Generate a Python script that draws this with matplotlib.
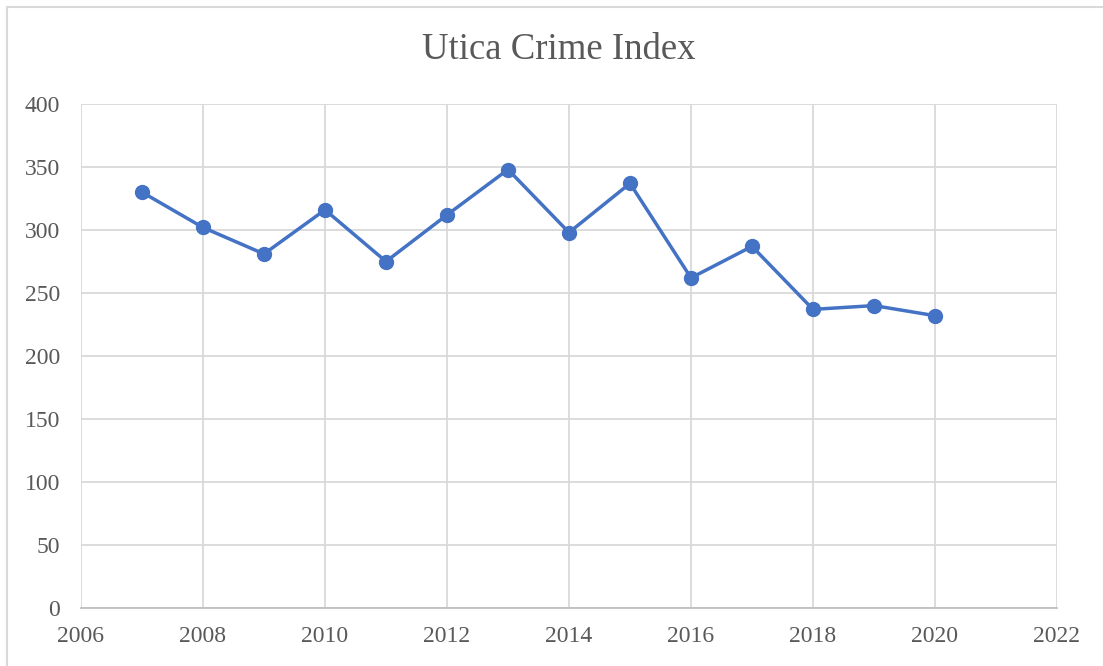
import matplotlib.pyplot as plt
from matplotlib.patches import Rectangle

# data
years = [2007, 2008, 2009, 2010, 2011, 2012, 2013, 2014, 2015, 2016, 2017, 2018, 2019, 2020]
crime_index = [330, 302, 281, 316, 275, 312, 348, 298, 337, 262, 287, 237, 240, 232]

x_ticks = [2006, 2008, 2010, 2012, 2014, 2016, 2018, 2020, 2022]
y_ticks = [0, 50, 100, 150, 200, 250, 300, 350, 400]

plt.rcParams['font.family'] = ['Liberation Serif', 'DejaVu Serif']

fig = plt.figure(figsize=(11.03, 6.66), dpi=100)
ax = fig.add_axes([81 / 1103, 1 - 608 / 666, 976 / 1103, 504 / 666])

# chart border (Excel-like)
fig.patches.append(Rectangle((7 / 1103, -0.1), 1.2, 1 - 7 / 666 + 0.1,
                             transform=fig.transFigure, fill=False,
                             edgecolor='#d9d9d9', linewidth=1.5))

ax.plot(years, crime_index, color='#4472C4', linewidth=2.5,
        marker='o', markersize=10, zorder=3)

ax.set_xlim(2006, 2022)
ax.set_ylim(0, 400)
ax.set_xticks(x_ticks)
ax.set_yticks(y_ticks)
ax.grid(True, color='#d9d9d9', linewidth=1.3)
ax.set_axisbelow(True)

for side in ['top', 'right', 'left']:
    ax.spines[side].set_visible(False)
ax.spines['bottom'].set_color('#bfbfbf')
ax.spines['bottom'].set_linewidth(1.3)

ax.tick_params(axis='both', length=0, labelsize=17, labelcolor='#595959')
ax.tick_params(axis='y', pad=15)
ax.tick_params(axis='x', pad=13)

fig.text(0.507, 1 - 50 / 666, "Utica Crime Index", ha='center', va='center',
         fontsize=26.5, color='#595959')

fig.savefig("out.png", dpi=100)
